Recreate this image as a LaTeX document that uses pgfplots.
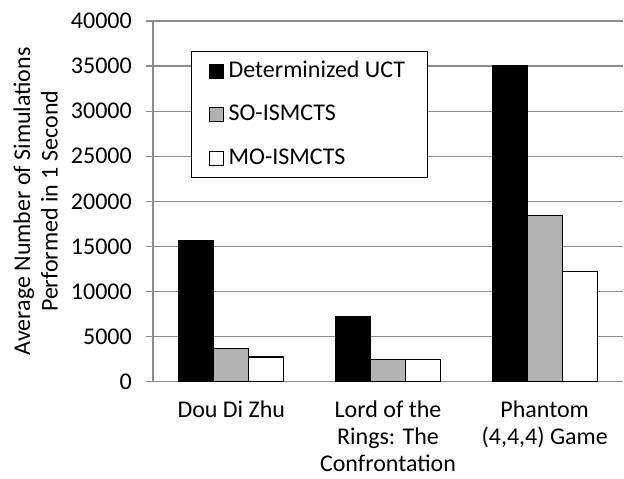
\documentclass[border=0pt]{standalone}
\usepackage{pgfplots}
\pgfplotsset{compat=1.18}
\usepackage{fontspec}
\setmainfont{Carlito}
\definecolor{gridgray}{RGB}{140,140,140}
\definecolor{bargray}{RGB}{178,178,178}
\newcommand{\cf}{\fontsize{24bp}{27.5bp}\selectfont}
\newcommand{\xf}{\fontsize{24bp}{27bp}\selectfont}
\begin{document}
\cf
\begin{tikzpicture}
\begin{axis}[
  scale only axis,
  width=470bp, height=360.7bp,
  ymin=0, ymax=40000,
  ytick={0,5000,...,40000},
  xmin=-0.5, xmax=2.5,
  xtick={0,1,2},
  xticklabels={{Dou Di Zhu}, {Lord of the\\Rings: The\\Confrontation}, {Phantom\\(4,4,4) Game}},
  xticklabel style={align=center, font=\xf, yshift=-4bp},
  yticklabel style={font=\cf, xshift=-6bp},
  /pgf/number format/assume math mode=true,
  scaled y ticks=false,
  yticklabel={\pgfmathprintnumber[fixed,set thousands separator={}]{\tick}},
  extra x ticks={0.5,1.5},
  extra x tick labels={},
  extra x tick style={major tick length=7bp, tick style={gridgray, line width=1.2bp}},
  xtick style={draw=none},
  ytick style={gridgray, line width=1.2bp},
  major tick length=7bp,
  tick align=outside,
  ymajorgrids,
  grid style={gridgray, line width=1.2bp},
  axis x line*=bottom,
  axis y line*=left,
  axis line style={gridgray, line width=1.2bp, -},
  ylabel={Average Number of Simulations\\Performed in 1 Second},
  ylabel style={align=center, font=\cf, yshift=-3bp},
  ybar=0pt,
  bar width=35bp,
  legend style={at={(0.0802,0.917)}, anchor=north west, draw=black, line width=1.2bp,
    font=\cf, row sep=20bp, inner xsep=18bp, inner ysep=7.5bp,
    legend cell align=left, fill=white, nodes={inner xsep=4.5bp}},
  legend image code/.code={\draw[#1, line width=0.8bp] (0bp,-7bp) rectangle (14bp,7bp);},
]
\addplot[fill=black, draw=black, line width=1.2bp] coordinates {(0,15600) (1,7175) (2,35000)};
\addplot[fill=bargray, draw=black, line width=1.2bp] coordinates {(0,3700) (1,2480) (2,18400)};
\addplot[fill=white, draw=black, line width=1.2bp] coordinates {(0,2740) (1,2440) (2,12240)};
\legend{Determinized UCT, SO-ISMCTS, MO-ISMCTS}
\coordinate (o) at (rel axis cs:0,0);
\end{axis}
\pgfresetboundingbox
\path[use as bounding box] ([shift={(-153bp,-97.3bp)}]o) rectangle ([shift={(471bp,381.7bp)}]o);
\end{tikzpicture}
\end{document}
